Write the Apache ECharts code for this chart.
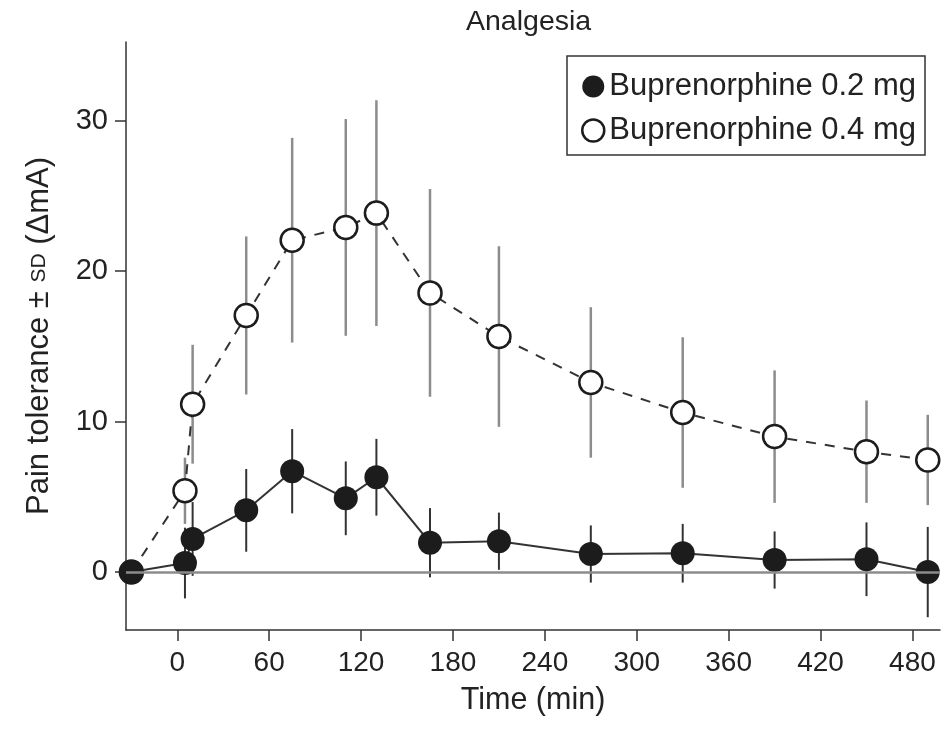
<!DOCTYPE html>
<html>
<head>
<meta charset="utf-8">
<script src="https://cdn.jsdelivr.net/npm/echarts@6/dist/echarts.min.js"></script>
<style>html,body{margin:0;padding:0;background:#fff;}#c{width:942px;height:729px;}</style>
</head>
<body>
<div id="c"></div>
<script>
// ---- data ----
const times = [-30, 5, 10, 45, 75, 110, 130, 165, 210, 270, 330, 390, 450, 490];
const low = [0, 0.6, 2.2, 4.1, 6.7, 4.9, 6.3, 1.95, 2.05, 1.2, 1.25, 0.8, 0.85, 0];
const lowSD = [0, 2.35, 2.45, 2.75, 2.8, 2.45, 2.55, 2.3, 1.9, 1.9, 1.95, 1.9, 2.45, 3.0];
const high = [0, 5.4, 11.15, 17.05, 22.05, 22.9, 23.85, 18.55, 15.65, 12.6, 10.6, 9.0, 8.0, 7.45];
const highSD = [0, 2.2, 3.95, 5.25, 6.8, 7.2, 7.5, 6.9, 6.0, 5.0, 5.0, 4.4, 3.4, 3.0];
const xTicks = [0, 60, 120, 180, 240, 300, 360, 420, 480];
const yTicks = [0, 10, 20, 30];
const nameLow = 'Buprenorphine 0.2 mg';
const nameHigh = 'Buprenorphine 0.4 mg';

const FONT = '"Liberation Sans", Arial, Helvetica, sans-serif';
const chart = echarts.init(document.getElementById('c'), null, {renderer: 'canvas'});

function errData(vals, sds) {
  const out = [];
  times.forEach((t, i) => { if (sds[i] > 0) out.push([t, vals[i] - sds[i], vals[i] + sds[i]]); });
  return out;
}
function errSeries(vals, sds, color, width, z) {
  return {
    type: 'custom', z: z, silent: true,
    data: errData(vals, sds),
    encode: {x: 0, y: [1, 2]},
    renderItem: function (params, api) {
      const p1 = api.coord([api.value(0), api.value(1)]);
      const p2 = api.coord([api.value(0), api.value(2)]);
      return {type: 'line', shape: {x1: p1[0], y1: p1[1], x2: p2[0], y2: p2[1]},
              style: {stroke: color, lineWidth: width}};
    }
  };
}

const option = {
  animation: false,
  backgroundColor: '#fff',
  title: {
    text: 'Analgesia', left: 461, top: 3,
    textStyle: {fontFamily: FONT, fontSize: 28.5, fontWeight: 'normal', color: '#222'}
  },
  legend: {
    orient: 'vertical', left: 567, top: 56,
    padding: [15, 9, 9, 14],
    itemWidth: 22, itemHeight: 22, itemGap: 13,
    borderColor: '#333', borderWidth: 1.5, backgroundColor: '#fff',
    textStyle: {fontFamily: FONT, fontSize: 31, color: '#222', lineHeight: 31},
    data: [
      {name: nameLow, icon: 'circle', itemStyle: {color: '#1c1c1c', borderWidth: 0}},
      {name: nameHigh, icon: 'circle', itemStyle: {color: '#fff', borderColor: '#1c1c1c', borderWidth: 2.5}}
    ]
  },
  grid: {left: 126, right: 2, top: 42, bottom: 99, containLabel: false},
  xAxis: {
    type: 'value', min: -33.5, max: 498,
    name: 'Time (min)', nameLocation: 'middle', nameGap: 55,
    nameTextStyle: {fontFamily: FONT, fontSize: 30.5, color: '#222'},
    axisLine: {show: true, onZero: false, lineStyle: {color: '#333', width: 1.5}},
    axisTick: {show: true, length: 11, customValues: xTicks, lineStyle: {color: '#333', width: 1.5}},
    axisLabel: {customValues: xTicks, margin: 19, fontFamily: FONT, fontSize: 28, color: '#222'},
    splitLine: {show: false}
  },
  yAxis: {
    type: 'value', min: -3.85, max: 35.22,
    name: 'Pain tolerance ± {sd|SD} (ΔmA)', nameLocation: 'middle', nameGap: 71, nameRotate: 90,
    nameTextStyle: {fontFamily: FONT, fontSize: 31, color: '#222',
      rich: {sd: {fontFamily: FONT, fontSize: 21, color: '#222'}}},
    axisLine: {show: true, onZero: false, lineStyle: {color: '#333', width: 1.5}},
    axisTick: {show: true, length: 11, customValues: yTicks, lineStyle: {color: '#333', width: 1.5}},
    axisLabel: {customValues: yTicks, margin: 18, fontFamily: FONT, fontSize: 29, color: '#222'},
    splitLine: {show: false}
  },
  series: [
    Object.assign(errSeries(high, highSD, '#8c8c8c', 2.5, 1), {
      markLine: {
        silent: true, symbol: 'none', label: {show: false},
        lineStyle: {color: '#8c8c8c', width: 2.5, type: 'solid'},
        data: [{yAxis: 0}]
      }
    }),
    errSeries(low, lowSD, '#333', 2, 2),
    {
      name: nameHigh, type: 'line', z: 3,
      data: times.map((t, i) => [t, high[i]]),
      symbol: 'circle', symbolSize: 23,
      lineStyle: {color: '#333', width: 2, type: [10, 9]},
      itemStyle: {color: '#fff', borderColor: '#1c1c1c', borderWidth: 2.5},
      emphasis: {disabled: true}
    },
    {
      name: nameLow, type: 'line', z: 4,
      data: times.map((t, i) => [t, low[i]]),
      symbol: 'circle', symbolSize: 24,
      lineStyle: {color: '#333', width: 2},
      itemStyle: {color: '#1c1c1c', borderWidth: 0},
      emphasis: {disabled: true}
    }
  ]
};
chart.setOption(option);
</script>
</body>
</html>
